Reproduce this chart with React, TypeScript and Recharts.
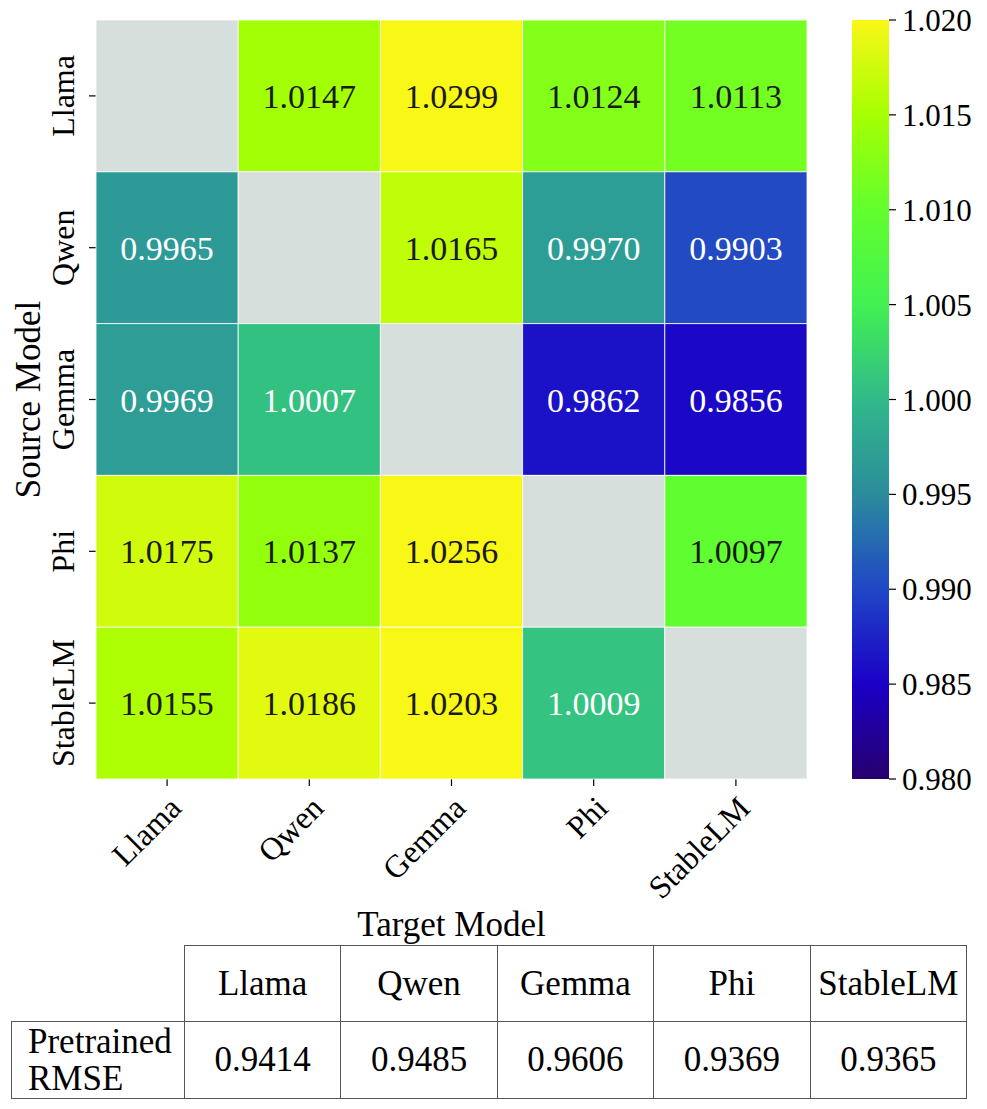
import React from 'react';
import { ScatterChart, Scatter, XAxis, YAxis, BarChart, Bar } from 'recharts';

// row = source model, column = target model (null = diagonal, not evaluated)
const models = ['Llama', 'Qwen', 'Gemma', 'Phi', 'StableLM'];
const llamaRow = [null, 1.0147, 1.0299, 1.0124, 1.0113];
const qwenRow = [0.9965, null, 1.0165, 0.997, 0.9903];
const gemmaRow = [0.9969, 1.0007, null, 0.9862, 0.9856];
const phiRow = [1.0175, 1.0137, 1.0256, null, 1.0097];
const stableLmRow = [1.0155, 1.0186, 1.0203, 1.0009, null];
const rows: (number | null)[][] = [llamaRow, qwenRow, gemmaRow, phiRow, stableLmRow];

const pretrainedRmse = [0.9414, 0.9485, 0.9606, 0.9369, 0.9365];

const colorbarTicks = [0.98, 0.985, 0.99, 0.995, 1.0, 1.005, 1.01, 1.015, 1.02];
const vmin = 0.98;
const vmax = 1.02;

const cmapStops: [number, string][] = [
  [0.98, '#27006e'],
  [0.985, '#1a00c6'],
  [0.99, '#2046c6'],
  [0.995, '#2b8c9c'],
  [1.0, '#31b98a'],
  [1.005, '#42f152'],
  [1.01, '#62ff2e'],
  [1.015, '#a6ff02'],
  [1.02, '#f9f716'],
];

const FONT = '"Liberation Serif", "Times New Roman", serif';
const PLOT_W = 711;
const PLOT_H = 759;
const CELL_W = PLOT_W / 5;
const CELL_H = PLOT_H / 5;
const NAN_COLOR = '#d7dfdd';

const hex = (c: string) => [1, 3, 5].map((i) => parseInt(c.slice(i, i + 2), 16));

function colorFor(v: number) {
  const t = Math.min(vmax, Math.max(vmin, v));
  for (let i = 0; i < cmapStops.length - 1; i++) {
    const [a, ca] = cmapStops[i];
    const [b, cb] = cmapStops[i + 1];
    if (t <= b) {
      const f = (t - a) / (b - a);
      const A = hex(ca);
      const B = hex(cb);
      const m = A.map((x, k) => Math.round(x + (B[k] - x) * f));
      return `rgb(${m[0]},${m[1]},${m[2]})`;
    }
  }
  return cmapStops[cmapStops.length - 1][1];
}

const cells = rows.flatMap((row, i) =>
  row.map((value, j) => ({ x: j + 0.5, y: i + 0.5, value }))
);

const HeatCell = (props: any) => {
  const { cx, cy, payload } = props;
  const v: number | null = payload.value;
  const fill = v == null ? NAN_COLOR : colorFor(v);
  const textColor = v != null && v < 1.003 ? '#ffffff' : '#1a1a1a';
  return (
    <g>
      <rect
        x={cx - CELL_W / 2}
        y={cy - CELL_H / 2}
        width={CELL_W}
        height={CELL_H}
        fill={fill}
        stroke="#ffffff"
        strokeOpacity={0.8}
        strokeWidth={1}
      />
      {v != null && (
        <text x={cx} y={cy + 12} textAnchor="middle" fontSize={34} fontFamily={FONT} fill={textColor}>
          {v.toFixed(4)}
        </text>
      )}
    </g>
  );
};

const XTick = (props: any) => {
  const { x, y, payload } = props;
  const ax = x + 16;
  const ay = y + 22;
  return (
    <text
      x={ax}
      y={ay}
      textAnchor="end"
      transform={`rotate(-45 ${ax} ${ay})`}
      fontSize={32}
      fontFamily={FONT}
      fill="#000"
    >
      {models[Math.floor(payload.value)]}
    </text>
  );
};

const YTick = (props: any) => {
  const { x, y, payload } = props;
  const ax = x - 13;
  return (
    <text
      x={ax}
      y={y}
      textAnchor="middle"
      transform={`rotate(-90 ${ax} ${y})`}
      fontSize={32}
      fontFamily={FONT}
      fill="#000"
    >
      {models[Math.floor(payload.value)]}
    </text>
  );
};

const colorbarData = [{ name: 'cb', range: [vmin, vmax] }];

const cellBorder = '1px solid #555';

export default function App() {
  const tickPositions = models.map((_, i) => i + 0.5);
  return (
    <div style={{ position: 'absolute', left: 0, top: 0, width: 987, height: 1109, background: '#fff', fontFamily: FONT }}>
      <div style={{ position: 'absolute', left: 0, top: 0 }}>
        <ScatterChart width={820} height={909} margin={{ top: 20, right: 13, bottom: 0, left: 0 }}>
          <XAxis
            type="number"
            dataKey="x"
            domain={[0, 5]}
            ticks={tickPositions}
            interval={0}
            axisLine={false}
            tickSize={7}
            tickLine={{ stroke: '#000', strokeWidth: 1.2 }}
            tick={<XTick />}
            height={130}
          />
          <YAxis
            type="number"
            dataKey="y"
            domain={[0, 5]}
            reversed
            ticks={tickPositions}
            interval={0}
            axisLine={false}
            tickSize={7}
            tickLine={{ stroke: '#000', strokeWidth: 1.2 }}
            tick={<YTick />}
            width={96}
          />
          <Scatter data={cells} shape={<HeatCell />} isAnimationActive={false} />
        </ScatterChart>
      </div>

      <div style={{ position: 'absolute', left: 852, top: 0 }}>
        <BarChart width={135} height={800} data={colorbarData} margin={{ top: 20, right: 0, bottom: 21, left: 0 }} barCategoryGap={0}>
          <defs>
            <linearGradient id="cbGrad" x1="0" y1="0" x2="0" y2="1">
              {cmapStops
                .slice()
                .reverse()
                .map(([v, c]) => (
                  <stop key={v} offset={(vmax - v) / (vmax - vmin)} stopColor={c} />
                ))}
            </linearGradient>
          </defs>
          <XAxis dataKey="name" hide />
          <YAxis
            orientation="right"
            domain={[vmin, vmax]}
            ticks={colorbarTicks}
            interval={0}
            allowDataOverflow
            axisLine={false}
            tickSize={7}
            tickMargin={6}
            tickLine={{ stroke: '#000', strokeWidth: 1.2 }}
            tickFormatter={(v: number) => v.toFixed(3)}
            tick={{ fontSize: 31, fontFamily: FONT, fill: '#000' }}
            width={98}
          />
          <Bar dataKey="range" fill="url(#cbGrad)" isAnimationActive={false} />
        </BarChart>
      </div>

      <svg width={987} height={1109} style={{ position: 'absolute', left: 0, top: 0, pointerEvents: 'none' }}>
        <text x={40} y={399.5} textAnchor="middle" transform="rotate(-90 40 399.5)" fontSize={35} fontFamily={FONT} fill="#000">
          Source Model
        </text>
        <text x={451.5} y={936} textAnchor="middle" fontSize={35} fontFamily={FONT} fill="#000">
          Target Model
        </text>
      </svg>

      <table
        style={{
          position: 'absolute',
          left: 11,
          top: 945,
          borderCollapse: 'collapse',
          fontFamily: FONT,
          fontSize: 35,
          color: '#000',
          tableLayout: 'fixed',
        }}
      >
        <colgroup>
          <col style={{ width: 173 }} />
          {models.map((m) => (
            <col key={m} style={{ width: 156.4 }} />
          ))}
        </colgroup>
        <tbody>
          <tr style={{ height: 76 }}>
            <td style={{ borderRight: cellBorder, borderBottom: cellBorder, padding: 0 }} />
            {models.map((m) => (
              <td key={m} style={{ border: cellBorder, textAlign: 'center', padding: 0, whiteSpace: 'nowrap' }}>
                {m}
              </td>
            ))}
          </tr>
          <tr style={{ height: 77 }}>
            <td style={{ border: cellBorder, padding: '0 0 0 16px', lineHeight: '37px', textAlign: 'left', whiteSpace: 'nowrap' }}>
              Pretrained
              <br />
              RMSE
            </td>
            {pretrainedRmse.map((v, i) => (
              <td key={i} style={{ border: cellBorder, textAlign: 'center', padding: 0 }}>
                {v.toFixed(4)}
              </td>
            ))}
          </tr>
        </tbody>
      </table>
    </div>
  );
}
